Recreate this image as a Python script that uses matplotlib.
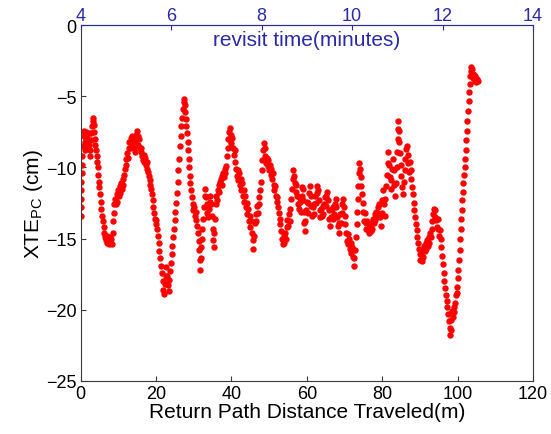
import matplotlib
matplotlib.use("Agg")
import matplotlib.pyplot as plt
import numpy as np

# return path distance (m), XTE_PC (cm), in segments
seg_a = [(0.0, -13.4), (0.05, -12.8), (0.1, -12.2), (0.15, -11.6), (0.2, -11.0), (0.25, -10.4),
         (0.35, -9.8), (0.45, -9.2), (0.6, -8.5), (0.75, -7.8), (0.9, -7.4), (1.05, -8.2),
         (1.2, -8.8), (1.35, -8.0), (1.5, -7.5), (1.65, -7.9), (1.8, -8.6), (1.95, -8.1),
         (2.1, -7.6), (2.25, -8.4), (2.4, -9.2), (2.55, -8.8), (2.7, -8.1), (2.85, -7.6),
         (3.0, -7.1), (3.15, -6.7), (3.3, -6.5), (3.45, -7.0), (3.6, -7.5), (3.75, -8.0),
         (3.9, -8.4), (4.05, -8.8), (4.2, -9.2), (4.35, -9.6), (4.5, -10.0), (4.65, -10.5),
         (4.8, -11.0), (4.95, -11.4), (5.1, -11.9), (5.3, -12.4), (5.5, -12.9), (5.7, -13.4),
         (5.9, -13.8), (6.1, -14.2), (6.3, -14.6), (6.5, -14.9), (6.7, -15.1), (6.9, -14.8),
         (7.1, -15.3), (7.3, -15.0), (7.5, -15.4), (7.7, -14.9), (7.9, -15.3), (8.1, -15.0),
         (8.3, -15.4), (8.5, -14.6), (8.65, -13.8), (8.8, -13.2), (8.95, -12.6), (9.1, -12.2)]

seg_b = [(9.3, -12.6), (9.5, -11.9), (9.7, -12.4), (9.9, -11.6), (10.1, -12.0), (10.3, -11.3),
         (10.5, -11.8), (10.7, -11.1), (10.9, -11.5), (11.1, -10.8), (11.3, -11.2), (11.5, -10.5),
         (11.7, -10.1), (11.9, -9.8), (12.1, -9.4), (12.3, -9.0), (12.5, -9.3), (12.7, -8.6),
         (12.9, -8.2), (13.1, -8.6), (13.3, -7.9), (13.5, -7.8), (13.7, -8.3), (13.9, -8.0),
         (14.1, -8.6), (14.3, -8.9), (14.5, -8.2), (14.7, -7.7), (14.9, -7.4), (15.1, -7.8),
         (15.3, -8.4), (15.5, -8.0), (15.7, -8.6), (15.9, -8.9), (16.1, -8.6), (16.3, -9.2),
         (16.5, -9.5), (16.7, -9.1), (16.9, -9.6), (17.1, -9.3), (17.3, -9.8), (17.5, -9.6),
         (17.7, -10.1), (17.9, -10.3), (18.1, -10.6), (18.3, -10.9), (18.5, -11.2), (18.7, -11.5),
         (18.9, -11.9), (19.1, -12.3), (19.3, -12.8), (19.5, -13.2), (19.7, -13.6), (19.9, -14.0),
         (20.1, -13.7), (20.3, -14.3), (20.5, -14.8), (20.7, -15.3), (20.9, -15.9), (21.1, -16.4),
         (21.3, -16.9), (21.5, -17.4), (21.7, -18.0), (21.9, -18.6), (22.1, -18.9), (22.3, -18.2),
         (22.5, -17.6), (22.7, -17.0), (22.9, -17.6), (23.1, -18.3), (23.3, -18.7), (23.5, -17.9),
         (23.7, -17.3), (23.9, -16.7), (24.1, -16.1), (24.3, -15.5), (24.5, -14.9), (24.7, -14.3),
         (24.9, -13.7), (25.1, -13.1), (25.3, -12.5), (25.5, -11.8), (25.7, -11.0), (25.9, -10.2),
         (26.1, -9.4), (26.3, -8.5), (26.5, -7.8), (26.7, -7.1), (26.9, -6.5), (27.1, -5.9),
         (27.3, -5.4), (27.45, -5.2), (27.6, -5.6), (27.75, -6.1), (27.9, -6.6), (28.05, -7.1),
         (28.2, -7.6), (28.35, -8.2), (28.5, -8.8), (28.65, -9.4), (28.8, -10.0), (28.95, -10.6),
         (29.1, -11.1), (29.3, -11.6), (29.5, -12.1), (29.7, -12.6), (29.9, -13.0), (30.1, -12.8),
         (30.3, -13.4), (30.5, -13.1), (30.7, -13.7), (30.9, -14.1), (31.1, -14.6), (31.3, -15.2),
         (31.5, -15.8), (31.6, -16.5), (31.7, -17.2), (31.8, -16.4), (31.9, -15.6), (32.1, -15.0),
         (32.3, -14.3), (32.5, -13.6), (32.7, -12.8), (32.9, -12.0), (33.0, -11.5), (33.2, -12.1),
         (33.4, -12.6), (33.6, -13.2), (33.8, -13.5), (34.0, -12.9), (34.2, -12.4), (34.4, -12.0),
         (34.6, -12.6), (34.8, -13.4), (35.0, -14.3), (35.15, -15.1), (35.3, -15.6), (35.45, -14.6),
         (35.6, -13.6), (35.8, -12.6), (36.0, -12.0), (36.2, -12.3), (36.4, -11.6), (36.6, -11.2),
         (36.8, -11.7), (37.0, -11.0), (37.2, -10.8), (37.4, -11.2), (37.6, -10.6), (37.8, -10.4),
         (38.0, -10.7), (38.2, -10.1), (38.4, -10.4), (38.6, -9.9), (38.8, -9.2), (39.0, -8.6),
         (39.2, -8.0), (39.4, -7.5), (39.6, -7.2), (39.8, -7.7), (40.0, -8.3), (40.2, -7.9),
         (40.4, -8.6), (40.6, -9.1), (40.8, -8.8), (41.0, -9.6), (41.2, -10.1), (41.4, -10.6)]

seg_c = [(41.6, -10.2), (41.8, -10.9), (42.0, -10.4), (42.2, -11.2), (42.4, -10.8), (42.6, -11.6),
         (42.8, -11.1), (43.0, -12.0), (43.2, -11.6), (43.4, -12.4), (43.6, -12.0), (43.8, -12.8),
         (44.0, -12.5), (44.2, -13.3), (44.4, -12.9), (44.6, -13.8), (44.8, -13.4), (45.0, -14.2),
         (45.2, -13.8), (45.4, -14.6), (45.6, -15.1), (45.8, -15.7), (46.0, -14.8), (46.2, -13.9),
         (46.4, -13.3), (46.6, -13.8), (46.8, -12.7), (47.0, -13.2), (47.2, -12.1), (47.4, -12.6),
         (47.6, -11.6), (47.8, -11.0), (48.0, -10.2), (48.2, -9.5), (48.4, -8.8), (48.6, -8.3),
         (48.8, -8.6), (49.0, -9.2), (49.2, -9.7), (49.4, -9.3), (49.6, -9.9), (49.8, -9.5),
         (50.0, -10.2), (50.2, -9.8), (50.4, -10.5), (50.6, -10.1), (50.8, -10.8), (51.0, -10.4),
         (51.2, -11.2), (51.4, -11.6), (51.6, -11.3), (51.8, -12.0), (52.0, -12.4), (52.2, -12.1),
         (52.4, -12.8), (52.6, -13.2), (52.8, -13.6), (53.0, -14.0), (53.2, -14.5), (53.4, -15.0),
         (53.6, -15.4), (53.8, -14.8), (54.0, -15.3), (54.2, -14.6), (54.4, -15.0), (54.6, -14.2),
         (54.8, -13.7), (55.0, -14.1), (55.2, -13.3), (55.4, -13.8), (55.6, -12.9), (55.8, -12.2),
         (56.0, -11.5), (56.2, -10.8), (56.4, -10.2), (56.6, -10.6), (56.8, -11.1), (57.0, -11.7),
         (57.2, -11.2), (57.4, -12.0), (57.6, -12.6), (57.8, -12.1), (58.0, -12.9), (58.2, -12.4),
         (58.4, -13.1), (58.6, -12.0), (58.8, -11.4)]

seg_d = [(59.0, -11.5), (59.1, -12.3), (59.2, -13.1), (59.3, -13.9), (59.4, -14.5), (59.6, -13.8),
         (59.8, -13.0), (60.0, -12.4), (60.2, -13.2), (60.4, -12.5), (60.6, -11.8), (60.8, -11.3),
         (61.0, -12.0), (61.2, -12.7), (61.4, -13.4), (61.6, -12.8), (61.8, -13.3), (62.0, -12.6),
         (62.2, -12.0), (62.4, -12.5), (62.6, -11.8), (62.8, -11.3), (63.0, -11.6), (63.2, -12.3),
         (63.4, -13.0), (63.6, -13.5), (63.8, -12.9), (64.0, -13.4), (64.2, -12.7), (64.4, -13.3),
         (64.6, -12.6), (64.8, -12.1), (65.0, -12.7), (65.2, -12.0), (65.4, -11.7), (65.6, -12.3),
         (65.8, -13.0), (66.0, -13.6), (66.2, -14.1), (66.4, -13.5), (66.6, -12.9), (66.8, -13.6),
         (67.0, -12.8), (67.2, -13.3), (67.4, -12.6), (67.6, -12.2), (67.8, -12.8), (68.0, -13.5),
         (68.2, -14.1), (68.4, -14.6), (68.6, -13.9), (68.8, -13.3), (69.0, -13.9), (69.2, -13.2),
         (69.4, -12.6), (69.6, -12.2), (69.8, -12.8), (70.0, -13.4), (70.2, -14.0), (70.4, -14.6),
         (70.6, -15.2), (70.8, -14.7), (71.0, -15.4), (71.2, -15.0), (71.4, -15.7), (71.6, -15.3),
         (71.8, -16.0), (72.0, -15.6), (72.2, -16.3), (72.4, -16.9), (72.6, -16.4), (72.8, -15.8),
         (73.0, -14.9), (73.2, -14.0), (73.35, -13.1), (73.5, -12.2), (73.65, -11.3), (73.8, -10.4),
         (73.95, -9.7), (74.1, -10.1), (74.25, -10.7), (74.4, -11.3), (74.6, -11.9), (74.8, -12.5),
         (75.0, -13.1), (75.2, -13.8), (75.4, -13.2), (75.6, -13.9), (75.8, -14.3), (76.0, -13.8),
         (76.2, -14.4), (76.4, -14.0), (76.6, -14.6), (76.8, -14.1), (77.0, -14.5), (77.2, -13.9),
         (77.4, -14.3), (77.6, -13.6), (77.8, -13.9), (78.0, -13.3), (78.2, -13.7), (78.4, -13.1),
         (78.6, -13.5), (78.8, -12.8), (79.0, -13.2)]

seg_e = [(79.2, -12.6), (79.4, -13.5), (79.6, -14.1), (79.8, -13.2), (80.0, -12.3), (80.2, -11.6),
         (80.4, -12.6), (80.6, -13.4), (80.8, -12.2), (81.0, -11.3), (81.2, -10.5), (81.4, -9.7),
         (81.6, -8.9), (81.8, -9.8), (82.0, -10.7), (82.2, -11.5), (82.4, -10.9), (82.6, -10.1),
         (82.8, -9.4), (83.0, -10.2), (83.2, -11.2), (83.4, -12.0), (83.6, -11.1), (83.8, -10.0),
         (84.0, -8.9), (84.1, -8.0), (84.2, -7.3), (84.3, -6.7), (84.4, -7.4), (84.5, -8.2),
         (84.7, -9.0), (84.9, -9.8), (85.1, -10.6), (85.3, -11.4), (85.5, -11.9), (85.7, -11.0),
         (85.9, -10.2), (86.1, -9.4), (86.3, -8.7), (86.5, -8.5), (86.7, -9.1), (86.9, -9.7),
         (87.1, -10.3), (87.3, -9.6), (87.5, -10.2), (87.7, -10.8), (87.9, -11.4), (88.1, -11.9),
         (88.3, -12.5), (88.5, -13.0), (88.7, -13.5), (88.9, -14.0), (89.1, -14.4), (89.3, -14.9),
         (89.5, -15.3), (89.7, -15.7), (89.9, -16.1), (90.1, -16.5), (90.3, -16.0), (90.5, -16.6),
         (90.7, -15.8), (90.9, -16.3), (91.1, -15.5), (91.3, -15.9), (91.5, -15.3), (91.7, -15.7),
         (91.9, -15.1), (92.1, -15.5), (92.3, -14.9), (92.5, -15.3), (92.7, -14.6), (92.9, -14.9),
         (93.1, -14.3), (93.3, -13.8), (93.5, -13.3), (93.7, -12.9), (93.9, -13.5), (94.1, -13.0),
         (94.3, -13.7), (94.5, -14.2), (94.7, -13.6), (94.9, -14.3), (95.1, -14.8), (95.3, -14.4),
         (95.5, -15.0), (95.7, -15.6), (95.9, -16.2), (96.1, -16.8), (96.3, -17.4), (96.5, -18.0),
         (96.7, -18.5), (96.9, -19.0), (97.1, -19.4), (97.3, -19.8), (97.5, -20.3), (97.7, -20.8),
         (97.9, -21.3), (98.05, -21.8), (98.2, -21.4), (98.35, -20.7), (98.5, -20.1), (98.7, -20.5),
         (98.9, -19.8), (99.1, -20.2), (99.3, -19.5), (99.5, -19.0), (99.7, -18.8), (99.9, -18.4),
         (100.05, -17.8), (100.2, -17.2), (100.35, -16.5), (100.5, -15.8), (100.65, -15.0),
         (100.8, -14.3), (100.95, -13.6), (101.1, -13.0), (101.25, -12.3), (101.4, -11.7),
         (101.55, -11.1), (101.7, -10.5), (101.85, -10.0), (102.0, -9.4), (102.15, -8.8),
         (102.3, -8.1), (102.45, -7.4), (102.6, -6.7), (102.75, -6.0), (102.9, -5.3), (103.05, -4.7),
         (103.2, -4.1), (103.35, -3.6), (103.5, -3.2), (103.65, -2.9), (103.8, -3.1), (103.95, -3.4),
         (104.1, -3.7), (104.3, -3.5), (104.5, -3.9), (104.7, -3.6), (104.9, -4.0), (105.1, -3.8),
         (105.3, -3.9)]

x_ticks = [0, 20, 40, 60, 80, 100, 120]
y_ticks = [-25, -20, -15, -10, -5, 0]
time_ticks = [4, 6, 8, 10, 12, 14]

plt.rcParams['font.family'] = ['Liberation Sans', 'DejaVu Sans']
plt.rcParams['mathtext.fontset'] = 'custom'
plt.rcParams['mathtext.rm'] = 'Liberation Sans'

blue = '#2a2aa8'
dark = '#3a3a3a'

pts = np.array(seg_a + seg_b + seg_c + seg_d + seg_e)

fig = plt.figure(figsize=(5.51, 4.35), dpi=100)
ax = fig.add_axes([0.1465, 0.1225, 0.8209, 0.817])

ax.plot(pts[:, 0], pts[:, 1], 'o', color='red', markersize=4.6, markeredgewidth=0)

ax.set_xlim(0, 120)
ax.set_ylim(-25, 0)
ax.set_xticks(x_ticks)
ax.set_yticks(y_ticks)
ax.tick_params(direction='in', length=3.5, width=0.8, labelsize=13, colors='black', pad=3)
ax.tick_params(axis='both', color=dark)
ax.set_xlabel('Return Path Distance Traveled(m)', fontsize=15, labelpad=0)
ax.set_ylabel('XTE$_\\mathregular{PC}$ (cm)', fontsize=15, labelpad=1)
for s in ax.spines.values():
    s.set_color(dark)
    s.set_linewidth(0.8)

ax2 = ax.twiny()
ax2.set_xlim(4, 14)
ax2.set_xticks(time_ticks)
ax2.tick_params(direction='in', length=3.5, width=0.8, labelsize=13, colors=blue, pad=1)
ax2.spines['top'].set_color(blue)
ax2.spines['top'].set_linewidth(0.8)
for k in ['left', 'right', 'bottom']:
    ax2.spines[k].set_visible(False)
ax2.set_xlabel('revisit time(minutes)', fontsize=15, color=blue, va='center')
ax2.xaxis.set_label_coords(0.5, 0.96)

fig.savefig('out.png', dpi=100)
